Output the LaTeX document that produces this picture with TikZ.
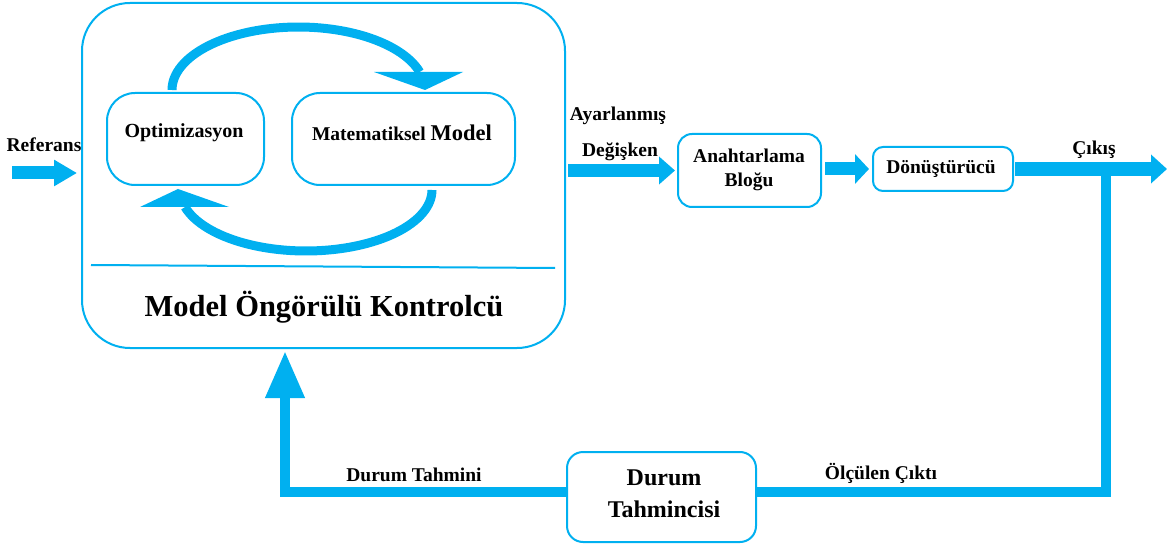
\documentclass[tikz,border=0pt]{standalone}
\usepackage{fontspec}
\setmainfont{Liberation Serif}
\usetikzlibrary{arrows.meta,calc}
\definecolor{mpcblue}{RGB}{0,176,240}

\begin{document}
\begin{tikzpicture}[x=1pt,y=-1pt,
  box/.style={draw=mpcblue, line width=2pt, fill=white, inner sep=0pt},
  lbl/.style={font=\bfseries\fontsize{19.5}{24}\selectfont, inner sep=0pt, align=center},
  bigtxt/.style={font=\bfseries\fontsize{24}{32}\selectfont, inner sep=0pt, align=center},
  fat/.style={draw=mpcblue, line width=13pt},
  feed/.style={draw=mpcblue, line width=10pt},
  loop/.style={draw=mpcblue, line width=9pt},
  sep/.style={draw=mpcblue, line width=2pt}]

% canvas
\fill[white] (0,0) rectangle (1172,545);
\useasboundingbox (0,0) rectangle (1172,545);

% controller block and its inner blocks
\node[box, rounded corners=48pt, minimum width=483pt, minimum height=345pt] (mpc) at (323.5,175.5) {};
\node[box, rounded corners=28pt, minimum width=157pt, minimum height=92pt] (opt) at (185.5,139) {};
\node[box, rounded corners=28pt, minimum width=223pt, minimum height=92pt] (mat) at (403.5,139) {};

% plant-side blocks
\node[box, rounded corners=14pt, minimum width=143pt, minimum height=73pt] (anb) at (749.5,170.5) {};
\node[box, rounded corners=10pt, minimum width=140pt, minimum height=44pt] (don) at (943,169) {};
\node[box, rounded corners=16pt, minimum width=189pt, minimum height=90pt] (dt) at (661.5,497) {};

% texts
\node[lbl, font=\bfseries\fontsize{20}{24}\selectfont] (toptxt) at (184,133) {Optimizasyon};
\node[lbl] (mattxt) at (402,133) {Matematiksel {\fontsize{22.5}{24}\selectfont Model}};
\node[font=\bfseries\fontsize{30.5}{34}\selectfont, inner sep=0pt] (mpctxt) at (324,307) {Model Öngörülü Kontrolcü};
\node[lbl] (reftxt) at (44,145) {Referans};
\node[lbl] (ayartxt) at (618,116) {Ayarlanmış};
\node[lbl] (degtxt) at (620,152) {Değişken};
\node[lbl] (anbtxt) at (749,170) {Anahtarlama\\Bloğu};
\node[lbl] (dontxt) at (941,169) {Dönüştürücü};
\node[bigtxt] (dttxt) at (664,494) {Durum\\Tahmincisi};
\node[lbl] (cikis) at (1094,150) {Çıkış};
\node[lbl] (dtm) at (414,475) {Durum Tahmini};
\node[lbl] (olc) at (881,473) {Ölçülen Çıktı};

% separator inside the controller
\draw[sep] (91,265) -- (555,268);

% optimisation loop between the two inner blocks
\draw[loop] plot[domain=180:16.6, samples=60] ({298.5+126.5*cos(\x)}, {90-63*sin(\x)});
\fill[mpcblue] (374,72) -- (463,72) -- (425,90) -- cycle;
\draw[loop] plot[domain=0:163.8, samples=60] ({306+126*cos(\x)}, {190+61*sin(\x)});
\fill[mpcblue] (140,207) -- (229,207) -- (178,189) -- cycle;

% signal path
\coordinate (refin) at (12,173);
\draw[fat, -{Triangle[length=23pt,width=25pt]}, shorten >=4pt] (refin) -- (refin -| mpc.west);
\draw[fat, -{Triangle[length=16pt,width=27pt]}, shorten <=2pt, shorten >=2pt] (anb.west -| mpc.east) -- (anb.west);
\draw[fat, -{Triangle[length=14pt,width=29pt]}, shorten <=3pt, shorten >=3pt] (anb.east |- don.west) -- (don.west);
\coordinate (out) at (1167,169);
\draw[fat, line width=14pt, -{Triangle[length=16pt,width=28pt]}, shorten <=1pt] (don.east) -- (out);

% feedback through the state estimator
\coordinate (tap) at (1106,169);
\coordinate (br) at (1106,492);
\coordinate (bl) at (285,492);
\draw[feed] (tap) -- (br) -- (br -| dt.east);
\draw[feed, -{Triangle[length=47pt,width=37pt]}, shorten >=2pt] (bl -| dt.west) -- (bl) -- (bl |- mpc.south);

\end{tikzpicture}
\end{document}
